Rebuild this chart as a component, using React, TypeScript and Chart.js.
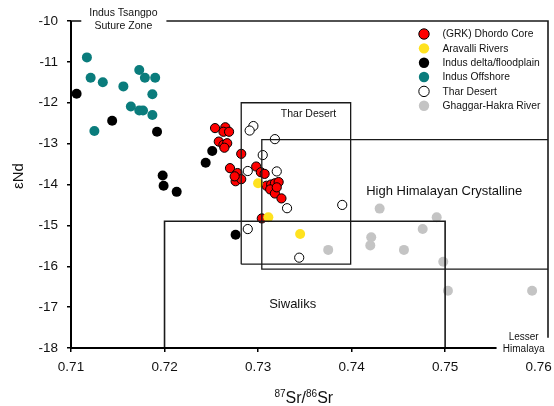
import React, { useEffect, useRef } from "react";
import { Chart, registerables } from "chart.js";

Chart.register(...registerables);

// ---- data ----
const seriesNames = [
  "(GRK) Dhordo Core",
  "Aravalli Rivers",
  "Indus delta/floodplain",
  "Indus Offshore",
  "Thar Desert",
  "Ghaggar-Hakra River",
];

const grkSr = [0.7254, 0.7265, 0.7263, 0.7269, 0.7258, 0.7263, 0.7267, 0.7264, 0.7282, 0.727, 0.7278, 0.7276, 0.7282, 0.7275, 0.7298, 0.7303, 0.7307, 0.7309, 0.7314, 0.7318, 0.7322, 0.7313, 0.7318, 0.732, 0.7325, 0.7304];
const grkNd = [-12.62, -12.6, -12.71, -12.71, -12.95, -13.03, -12.99, -13.1, -13.25, -13.6, -13.72, -13.92, -13.87, -13.8, -13.56, -13.7, -13.74, -14.03, -14.0, -13.97, -13.94, -14.12, -14.22, -14.07, -14.34, -14.83];

const aravalliSr = [0.73, 0.7311, 0.7345];
const aravalliNd = [-13.97, -14.8, -15.21];

const deltaSr = [0.7106, 0.7144, 0.7192, 0.7251, 0.7244, 0.7198, 0.7199, 0.7213, 0.7276];
const deltaNd = [-11.78, -12.44, -12.71, -13.18, -13.47, -13.78, -14.03, -14.18, -15.23];

const offshoreSr = [0.7117, 0.7121, 0.7134, 0.7125, 0.7156, 0.7173, 0.7179, 0.719, 0.7187, 0.7164, 0.7173, 0.7177, 0.7187];
const offshoreNd = [-10.89, -11.39, -11.5, -12.69, -11.6, -11.2, -11.39, -11.39, -11.79, -12.09, -12.19, -12.19, -12.3];

const tharSr = [0.7295, 0.7291, 0.7318, 0.7305, 0.7289, 0.732, 0.7331, 0.739, 0.7289, 0.7344];
const tharNd = [-12.57, -12.68, -12.89, -13.28, -13.67, -13.68, -14.58, -14.5, -15.09, -15.79];

const ghaggarSr = [0.7375, 0.743, 0.7421, 0.742, 0.7456, 0.7476, 0.7491, 0.7498, 0.7503, 0.7593];
const ghaggarNd = [-15.6, -14.59, -15.29, -15.49, -15.6, -15.09, -14.8, -15.89, -16.6, -16.6];

const xTicks = [0.71, 0.72, 0.73, 0.74, 0.75, 0.76];
const yTicks = [-18, -17, -16, -15, -14, -13, -12, -11, -10];

// region boxes: [xLeft, xRight, yTop, yBottom]
const tharBox = [0.7282, 0.7399, -12.0, -15.95];
const hhcBox = [0.7304, 0.761, -12.9, -16.07];
const siwaliksBox = [0.72, 0.75, -14.9, -18];

const FONT = '"Liberation Sans", Arial, Helvetica, sans-serif';

const zip = (xs: number[], ys: number[]) => xs.map((x, i) => ({ x, y: ys[i] }));

const styles = [
  { bg: "#ff0000", border: "#000000", bw: 1, order: 1 },
  { bg: "#ffe21f", border: "#ffe21f", bw: 0, order: 0 },
  { bg: "#000000", border: "#000000", bw: 0, order: 3 },
  { bg: "#0a7c7c", border: "#0a7c7c", bw: 0, order: 4 },
  { bg: "#ffffff", border: "#000000", bw: 1, order: 5 },
  { bg: "#c4c4c4", border: "#c4c4c4", bw: 0, order: 6 },
];

const overlayPlugin = {
  id: "overlay",
  afterDatasetsDraw(chart: any) {
    const ctx = chart.ctx as CanvasRenderingContext2D;
    const xs = chart.scales.x;
    const ys = chart.scales.y;
    const X = (v: number) => xs.getPixelForValue(v);
    const Y = (v: number) => ys.getPixelForValue(v);
    ctx.save();

    // region boxes
    ctx.strokeStyle = "#1a1a1a";
    ctx.lineWidth = 1.3;
    const line = (pts: number[][]) => {
      ctx.beginPath();
      pts.forEach((p, i) => (i === 0 ? ctx.moveTo(X(p[0]), Y(p[1])) : ctx.lineTo(X(p[0]), Y(p[1]))));
      ctx.stroke();
    };
    line([[tharBox[0], tharBox[3]], [tharBox[0], tharBox[2]], [tharBox[1], tharBox[2]], [tharBox[1], tharBox[3]], [tharBox[0], tharBox[3]]]);
    line([[hhcBox[1], hhcBox[3]], [hhcBox[0], hhcBox[3]], [hhcBox[0], hhcBox[2]], [hhcBox[1], hhcBox[2]]]);
    ctx.lineWidth = 1.6;
    line([[siwaliksBox[0], siwaliksBox[3]], [siwaliksBox[0], siwaliksBox[2]], [siwaliksBox[1], siwaliksBox[2]], [siwaliksBox[1], siwaliksBox[3]]]);

    // frame (Indus Tsangpo suture zone top, lesser himalaya right)
    ctx.lineWidth = 1.6;
    line([[0.71, -10], [0.7111, -10]]);
    line([[0.7202, -10], [0.761, -10], [0.761, -17.75]]);

    // axes
    ctx.strokeStyle = "#000";
    ctx.lineWidth = 2;
    line([[0.71, -10], [0.71, -18], [0.7555, -18]]);

    // annotations
    ctx.fillStyle = "#111";
    ctx.textAlign = "center";
    ctx.textBaseline = "middle";
    ctx.font = `13px ${FONT}`;
    ctx.fillText("High Himalayan Crystalline", X(0.7499), Y(-14.17));
    ctx.fillText("Siwaliks", X(0.7337), Y(-16.94));
    ctx.font = `10.5px ${FONT}`;
    ctx.fillText("Thar Desert", X(0.7354), Y(-12.27));
    ctx.fillText("Indus Tsangpo", X(0.7156), Y(-9.8));
    ctx.fillText("Suture Zone", X(0.7156), Y(-10.12));
    ctx.font = `10px ${FONT}`;
    ctx.fillText("Lesser", X(0.7584), Y(-17.73));
    ctx.fillText("Himalaya", X(0.7584), Y(-18.04));

    // legend
    const ds = chart.data.datasets;
    ctx.font = `10.3px ${FONT}`;
    ctx.textAlign = "left";
    ds.forEach((d: any, i: number) => {
      const cy = 34 + i * 14.35;
      ctx.beginPath();
      ctx.arc(424, cy, 5.2, 0, Math.PI * 2);
      ctx.fillStyle = d.backgroundColor;
      ctx.fill();
      if (d.borderWidth > 0) {
        ctx.lineWidth = 1;
        ctx.strokeStyle = d.borderColor;
        ctx.stroke();
      }
      ctx.fillStyle = "#111";
      ctx.fillText(d.label, 442.5, cy + 0.5);
    });

    // x-axis title with superscripts
    const cx = (X(0.71) + X(0.76)) / 2 - 1;
    const base = 403;
    const parts: [string, boolean][] = [["87", true], ["Sr/", false], ["86", true], ["Sr", false]];
    let total = 0;
    parts.forEach(([t, sup]) => {
      ctx.font = `${sup ? 10 : 16}px ${FONT}`;
      total += ctx.measureText(t).width;
    });
    let px = cx - total / 2;
    ctx.textBaseline = "alphabetic";
    ctx.fillStyle = "#111";
    parts.forEach(([t, sup]) => {
      ctx.font = `${sup ? 10 : 16}px ${FONT}`;
      ctx.fillText(t, px, sup ? base - 6 : base);
      px += ctx.measureText(t).width;
    });

    // y-axis title
    ctx.save();
    ctx.translate(18.5, 176);
    ctx.rotate(-Math.PI / 2);
    ctx.font = `15px ${FONT}`;
    ctx.textAlign = "center";
    ctx.textBaseline = "middle";
    ctx.fillText("εNd", 0, 0);
    ctx.restore();

    ctx.restore();
  },
};

export default function App() {
  const ref = useRef<HTMLCanvasElement | null>(null);
  useEffect(() => {
    document.body.style.margin = "0";
    const canvas = ref.current!;
    const seriesData = [
      zip(grkSr, grkNd),
      zip(aravalliSr, aravalliNd),
      zip(deltaSr, deltaNd),
      zip(offshoreSr, offshoreNd),
      zip(tharSr, tharNd),
      zip(ghaggarSr, ghaggarNd),
    ];
    const chart = new Chart(canvas, {
      type: "scatter",
      data: {
        datasets: seriesNames.map((name, i) => ({
          label: name,
          data: seriesData[i],
          backgroundColor: styles[i].bg,
          borderColor: styles[i].border,
          borderWidth: styles[i].bw,
          pointRadius: styles[i].bw ? 4.6 : 5,
          order: styles[i].order,
        })),
      },
      options: {
        animation: false,
        responsive: false,
        maintainAspectRatio: false,
        devicePixelRatio: 1,
        layout: { padding: { top: 21, right: 6, left: 0, bottom: 0 } },
        plugins: { legend: { display: false }, tooltip: { enabled: false } },
        scales: {
          x: {
            type: "linear",
            min: 0.71,
            max: 0.761,
            afterBuildTicks: (s: any) => {
              s.ticks = xTicks.map((v) => ({ value: v }));
            },
            afterFit: (s: any) => {
              s.height = 58;
              s.paddingLeft = 0;
              s.paddingRight = 0;
            },
            border: { display: false },
            grid: {
              drawOnChartArea: false,
              drawTicks: true,
              tickLength: 4,
              lineWidth: 1.5,
              tickColor: (c: any) => (c.tick && c.tick.value === 0.76 ? "rgba(0,0,0,0)" : "#000"),
            },
            ticks: {
              padding: 7,
              color: "#111",
              font: { family: FONT, size: 13.5 },
              maxRotation: 0,
              autoSkip: false,
              callback: (v: any) => Number(v).toFixed(2),
            },
          },
          y: {
            type: "linear",
            min: -18,
            max: -10,
            afterBuildTicks: (s: any) => {
              s.ticks = yTicks.map((v) => ({ value: v }));
            },
            afterFit: (s: any) => {
              s.width = 71;
            },
            border: { display: false },
            grid: {
              drawOnChartArea: false,
              drawTicks: true,
              tickLength: 4,
              lineWidth: 1.5,
              tickColor: "#000",
            },
            ticks: {
              padding: 9,
              color: "#111",
              font: { family: FONT, size: 13.5 },
              autoSkip: false,
              callback: (v: any) => String(v),
            },
          },
        },
      },
      plugins: [overlayPlugin],
    } as any);
    return () => chart.destroy();
  }, []);
  return (
    <div style={{ width: 554, height: 406 }}>
      <canvas ref={ref} width={554} height={406} style={{ display: "block" }} />
    </div>
  );
}
